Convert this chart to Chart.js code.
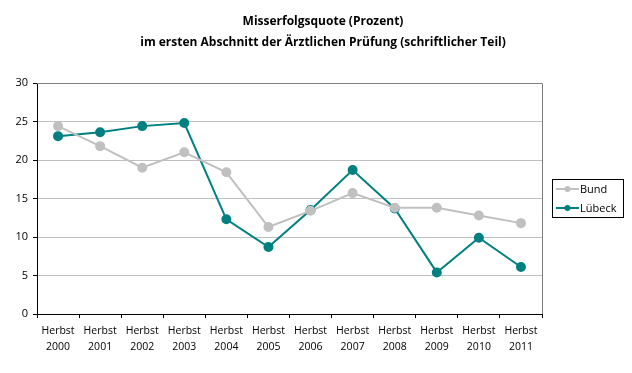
<!DOCTYPE html>
<html><head><meta charset="utf-8">
<script src="https://cdn.jsdelivr.net/npm/chart.js@4/dist/chart.umd.min.js"></script>
<style>html,body{margin:0;padding:0;background:#fff}canvas{display:block}</style>
</head><body>
<canvas id="c" width="632" height="373"></canvas>
<script>
const titleLines = ['Misserfolgsquote (Prozent)', 'im ersten Abschnitt der Ärztlichen Prüfung (schriftlicher Teil)'];
const categories = [['Herbst','2000'],['Herbst','2001'],['Herbst','2002'],['Herbst','2003'],['Herbst','2004'],['Herbst','2005'],['Herbst','2006'],['Herbst','2007'],['Herbst','2008'],['Herbst','2009'],['Herbst','2010'],['Herbst','2011']];
const bund =   [24.4, 21.8, 19.0, 21.0, 18.4, 11.3, 13.4, 15.7, 13.8, 13.8, 12.8, 11.8];
const luebeck = [23.1, 23.6, 24.4, 24.8, 12.3, 8.7, 13.5, 18.7, 13.7, 5.4, 9.9, 6.1];
const yTicks = [0, 5, 10, 15, 20, 25, 30];

const FONT = '"Open Sans", "DejaVu Sans", sans-serif';

const deco = {
  id: 'deco',
  afterDraw(chart) {
    const ctx = chart.ctx, a = chart.chartArea;
    ctx.save();
    // plot area frame (top/right)
    ctx.strokeStyle = '#808080';
    ctx.lineWidth = 1;
    ctx.beginPath();
    ctx.moveTo(a.left, Math.round(a.top) + 0.5);
    ctx.lineTo(Math.round(a.right) + 0.5, Math.round(a.top) + 0.5);
    ctx.lineTo(Math.round(a.right) + 0.5, a.bottom);
    ctx.stroke();
    // title
    ctx.fillStyle = '#000';
    ctx.font = 'bold 12px ' + FONT;
    ctx.textAlign = 'center';
    ctx.textBaseline = 'middle';
    ctx.fillText(titleLines[0], 323, 22);
    ctx.fillText(titleLines[1], 323, 43);
    // legend
    const lx = 552, ly = 179, lw = 71, lh = 38;
    ctx.strokeStyle = '#000';
    ctx.strokeRect(lx + 0.5, ly + 0.5, lw, lh);
    ctx.font = '11px ' + FONT;
    ctx.textAlign = 'left';
    chart.data.datasets.forEach((ds, i) => {
      const y = ly + 10 + i * 19;
      ctx.strokeStyle = ds.borderColor;
      ctx.lineWidth = 2;
      ctx.beginPath();
      ctx.moveTo(lx + 4, y);
      ctx.lineTo(lx + 27, y);
      ctx.stroke();
      ctx.fillStyle = ds.backgroundColor;
      ctx.beginPath();
      ctx.arc(lx + 15.5, y, 3, 0, Math.PI * 2);
      ctx.fill();
      ctx.fillStyle = '#000';
      ctx.fillText(ds.label, lx + 28, y + 1);
    });
    ctx.restore();
  }
};

new Chart(document.getElementById('c'), {
  type: 'line',
  data: {
    labels: categories,
    datasets: [
      { label: 'Bund', data: bund, borderColor: '#c0c0c0', backgroundColor: '#c0c0c0', borderWidth: 2, pointRadius: 4, pointHoverRadius: 4, tension: 0 },
      { label: 'Lübeck', data: luebeck, borderColor: '#008080', backgroundColor: '#008080', borderWidth: 2, pointRadius: 4, pointHoverRadius: 4, tension: 0 }
    ]
  },
  options: {
    responsive: false,
    animation: false,
    events: [],
    layout: { padding: { top: 83, right: 90, left: 0, bottom: 0 } },
    plugins: { legend: { display: false }, title: { display: false }, tooltip: { enabled: false } },
    scales: {
      x: {
        offset: true,
        grid: { offset: true, drawOnChartArea: false, drawTicks: true, tickLength: 4, tickColor: '#000', color: '#000' },
        border: { color: '#000', width: 1 },
        ticks: { color: '#000', font: { family: FONT, size: 10.5, lineHeight: 1.5 }, padding: 5, maxRotation: 0, autoSkip: false },
        afterFit(s) { s.height = 59; }
      },
      y: {
        min: 0, max: 30,
        afterBuildTicks(s) { s.ticks = yTicks.map(v => ({ value: v })); },
        grid: { color: '#c0c0c0', tickColor: '#000', tickLength: 4, drawTicks: true },
        border: { color: '#000', width: 1 },
        ticks: { color: '#000', font: { family: FONT, size: 11 }, padding: 5 },
        afterFit(s) { s.width = 37; }
      }
    }
  },
  plugins: [deco]
});
</script>
</body></html>
